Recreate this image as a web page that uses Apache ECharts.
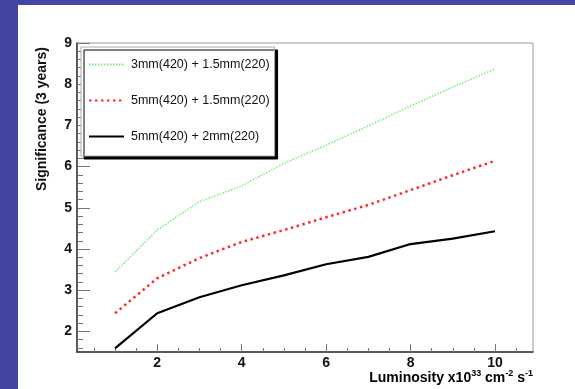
<!DOCTYPE html>
<html>
<head>
<meta charset="utf-8">
<script src="https://cdn.jsdelivr.net/npm/echarts@6/dist/echarts.min.js"></script>
<style>
html,body{margin:0;padding:0;background:#fff;}
#chart{width:575px;height:389px;}
</style>
</head>
<body>
<div id="chart"></div>
<script>
var luminosity = [1, 2, 3, 4, 5, 6, 7, 8, 9, 10];
var seriesNames = ['3mm(420) + 1.5mm(220)', '5mm(420) + 1.5mm(220)', '5mm(420) + 2mm(220)'];
var sigGreen = [3.44, 4.46, 5.15, 5.53, 6.08, 6.52, 6.99, 7.47, 7.93, 8.37];
var sigRed   = [2.44, 3.29, 3.78, 4.17, 4.46, 4.77, 5.07, 5.43, 5.79, 6.14];
var sigBlack = [1.59, 2.44, 2.83, 3.12, 3.36, 3.63, 3.81, 4.12, 4.25, 4.43];
var yMajorTicks = [2, 3, 4, 5, 6, 7, 8, 9];
var yMinorTicks = [1.6, 1.8, 2.2, 2.4, 2.6, 2.8, 3.2, 3.4, 3.6, 3.8, 4.2, 4.4, 4.6, 4.8,
  5.2, 5.4, 5.6, 5.8, 6.2, 6.4, 6.6, 6.8, 7.2, 7.4, 7.6, 7.8, 8.2, 8.4, 8.6, 8.8];
var xMajorTicks = [2, 4, 6, 8, 10];
var xMinorTicks = [0.5, 1, 1.5, 2.5, 3, 3.5, 4.5, 5, 5.5, 6.5, 7, 7.5, 8.5, 9, 9.5, 10.5];

function pairs(ys) { return luminosity.map(function (x, i) { return [x, ys[i]]; }); }

var chart = echarts.init(document.getElementById('chart'), null, {renderer: 'canvas'});
var FONT = '"Liberation Sans", Arial, Helvetica, sans-serif';
var option = {
  animation: false,
  backgroundColor: '#fff',
  textStyle: {fontFamily: FONT},
  grid: {left: 77, top: 43, right: 42, bottom: 37, show: true, borderColor: '#9a9a9a', borderWidth: 1, backgroundColor: 'transparent'},
  graphic: [
    {type: 'rect', shape: {x: 0, y: 0, width: 575, height: 5}, style: {fill: '#4345a2'}, z: 100},
    {type: 'rect', shape: {x: 0, y: 0, width: 18, height: 389}, style: {fill: '#4345a2'}, z: 100},
    {type: 'text', x: 42, y: 119, rotation: Math.PI / 2,
      style: {text: 'Significance (3 years)', font: 'bold 14px ' + FONT, fill: '#111', align: 'center', verticalAlign: 'middle'}},
    {type: 'text', x: 533, y: 378,
      style: {text: '{a|Luminosity x10}{s|33}{a| cm}{s|-2}{a| s}{s|-1}', align: 'right', verticalAlign: 'middle',
        rich: {a: {fontWeight: 'bold', fontSize: 14, fontFamily: FONT, color: '#111'},
               s: {fontWeight: 'bold', fontSize: 9, fontFamily: FONT, color: '#111', padding: [0, 0, 8, 0]}}}}
  ],
  legend: {
    orient: 'vertical', left: 81, top: 47,
    padding: [11, 5, 13, 7],
    itemWidth: 35, itemHeight: 14, itemGap: 23,
    backgroundColor: '#fff', borderColor: '#aaa', borderWidth: 1,
    shadowColor: '#000', shadowBlur: 0, shadowOffsetX: 3, shadowOffsetY: 3,
    itemStyle: {opacity: 0},
    textStyle: {fontSize: 12.5, color: '#111', fontFamily: FONT, padding: [0, 0, 0, 2]},
    data: seriesNames
  },
  xAxis: [
    {type: 'value', min: 0.1, max: 10.9, position: 'bottom',
      axisLine: {show: true, onZero: false, lineStyle: {color: '#333', width: 1.5}},
      axisTick: {show: true, inside: true, length: 8, customValues: xMajorTicks, lineStyle: {color: '#777'}},
      axisLabel: {customValues: xMajorTicks, fontSize: 14, fontWeight: 'bold', color: '#111', margin: 4, fontFamily: FONT},
      splitLine: {show: false}},
    {type: 'value', min: 0.1, max: 10.9, position: 'bottom',
      axisLine: {show: false},
      axisTick: {show: true, inside: true, length: 4, customValues: xMinorTicks, lineStyle: {color: '#777'}},
      axisLabel: {show: false}, splitLine: {show: false}}
  ],
  yAxis: [
    {type: 'value', min: 1.5, max: 9, position: 'left',
      axisLine: {show: true, onZero: false, lineStyle: {color: '#333', width: 1.5}},
      axisTick: {show: true, inside: true, length: 13, customValues: yMajorTicks, lineStyle: {color: '#777'}},
      axisLabel: {customValues: yMajorTicks, fontSize: 14, fontWeight: 'bold', color: '#111', margin: 5, fontFamily: FONT},
      splitLine: {show: false}},
    {type: 'value', min: 1.5, max: 9, position: 'left',
      axisLine: {show: false},
      axisTick: {show: true, inside: true, length: 6, customValues: yMinorTicks, lineStyle: {color: '#777'}},
      axisLabel: {show: false}, splitLine: {show: false}}
  ],
  series: [
    {name: seriesNames[0], type: 'line', symbol: 'none', data: pairs(sigGreen), xAxisIndex: 0, yAxisIndex: 0,
      itemStyle: {color: '#74ec74'}, lineStyle: {color: '#74ec74', width: 1.5, type: [1.5, 1.5]}},
    {name: seriesNames[1], type: 'line', symbol: 'none', data: pairs(sigRed), xAxisIndex: 0, yAxisIndex: 0,
      itemStyle: {color: '#ff2a2a'}, lineStyle: {color: '#ff2a2a', width: 2.5, type: [2.5, 3.5]}},
    {name: seriesNames[2], type: 'line', symbol: 'none', data: pairs(sigBlack), xAxisIndex: 0, yAxisIndex: 0,
      itemStyle: {color: '#000'}, lineStyle: {color: '#000', width: 2.2, type: 'solid'}}
  ]
};
chart.setOption(option);
</script>
</body>
</html>
